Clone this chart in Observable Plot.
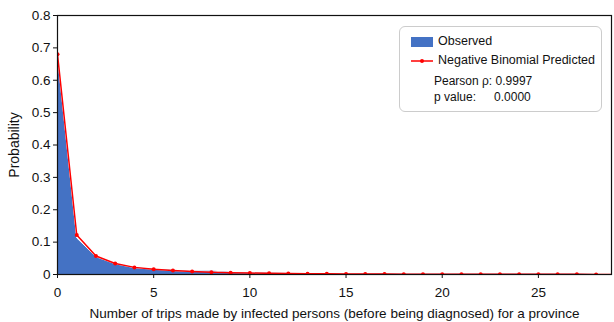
<!DOCTYPE html>
<html><head><meta charset="utf-8">
<script src="https://cdn.jsdelivr.net/npm/d3@7"></script>
<script src="https://cdn.jsdelivr.net/npm/@observablehq/plot@0.6"></script>
<style>
body{margin:0;background:#fff;font-family:"Liberation Sans",Arial,sans-serif;}
#wrap{position:relative;width:614px;height:322px;}
#legend{position:absolute;left:399px;top:26px;width:201px;height:84px;border:1px solid #ccc;border-radius:6px;background:#fff;font-size:12.5px;color:#111;}
#legend .row{position:absolute;left:11px;height:14px;line-height:14px;white-space:nowrap;}
#legend .sw{display:inline-block;vertical-align:middle;}
</style></head><body>
<div id="wrap"></div>
<script>
const trips = d3.range(0, 30);
const observed = [0.675, 0.113, 0.055, 0.033, 0.021, 0.016, 0.012, 0.009, 0.011, 0.006, 0.005, 0.004, 0.003, 0.0025, 0.002, 0.0018, 0.0015, 0.0012, 0.001, 0.0009, 0.0008, 0.0007, 0.0007, 0.0006, 0.0005, 0.0005, 0.0004, 0.0004, 0.0003, 0.0003];
const predicted = [0.68, 0.122, 0.057, 0.034, 0.022, 0.016, 0.012, 0.009, 0.007, 0.0055, 0.0045, 0.0037, 0.003, 0.0025, 0.0021, 0.0018, 0.0015, 0.0013, 0.0011, 0.001, 0.0009, 0.0008, 0.0007, 0.0006, 0.0005, 0.0005, 0.0004, 0.0004, 0.0003, 0.0003];
const xTicks = [0, 5, 10, 15, 20, 25];
const yTicks = [0, 0.1, 0.2, 0.3, 0.4, 0.5, 0.6, 0.7, 0.8];
const seriesNames = ["Observed", "Negative Binomial Predicted"];
const statsLines = [["Pearson ρ:", "0.9997"], ["p value:", "0.0000"]];

const data = trips.map((t, i) => ({t, obs: observed[i], pred: predicted[i]}));

const chart = Plot.plot({
  width: 614, height: 322,
  marginLeft: 57, marginRight: 3, marginTop: 15, marginBottom: 48,
  style: {fontFamily: '"Liberation Sans", Arial, sans-serif', fontSize: "13.5px", color: "#111", background: "#fff"},
  x: {domain: [0, 28.8]},
  y: {domain: [0, 0.8]},
  marks: [
    Plot.areaY(data, {x: "t", y: "obs", fill: "#4472C4", clip: true}),
    Plot.lineY(data, {x: "t", y: "obs", stroke: "#fff", strokeWidth: 1, clip: true}),
    Plot.lineY(data, {x: "t", y: "pred", stroke: "#ff0000", strokeWidth: 1.5, clip: true}),
    Plot.dot(data, {x: "t", y: "pred", fill: "#ff0000", r: 2, clip: true}),
    Plot.frame({stroke: "#111", strokeWidth: 1.2}),
    Plot.axisX({ticks: xTicks, tickSize: 4, tickPadding: 9, tickFormat: d => String(d), stroke: "#111", label: null}),
    Plot.axisX({ticks: [], tickSize: 0, fontSize: 13.5,
      label: "Number of trips made by infected persons (before being diagnosed) for a province",
      labelAnchor: "center", labelArrow: "none", labelOffset: 43}),
    Plot.axisY({ticks: yTicks, tickSize: 4, tickPadding: 3, tickFormat: d => d === 0 ? "0" : d3.format(".1f")(d), stroke: "#111", label: null}),
    Plot.axisY({ticks: [], tickSize: 0, fontSize: 14,
      label: "Probability", labelAnchor: "center", labelArrow: "none", labelOffset: 48})
  ]
});
const wrap = document.getElementById("wrap");
wrap.appendChild(chart);

const lg = document.createElement("div");
lg.id = "legend";
lg.innerHTML = `
<div class="row" style="top:7px"><span class="sw" style="width:22px;height:10px;background:#4472C4;margin-right:5px"></span>${seriesNames[0]}</div>
<div class="row" style="top:26px"><svg class="sw" width="22" height="8" style="margin-right:5px"><line x1="0" y1="4" x2="22" y2="4" stroke="#ff0000" stroke-width="1.5"/><circle cx="11" cy="4" r="2" fill="#ff0000"/></svg>${seriesNames[1]}</div>
<div class="row" style="top:47px;left:34px;font-size:12px">${statsLines[0][0]} ${statsLines[0][1]}</div>
<div class="row" style="top:63px;left:34px;font-size:12px">${statsLines[1][0]}<span style="display:inline-block;width:18px"></span>${statsLines[1][1]}</div>`;
wrap.appendChild(lg);
</script>
</body></html>
